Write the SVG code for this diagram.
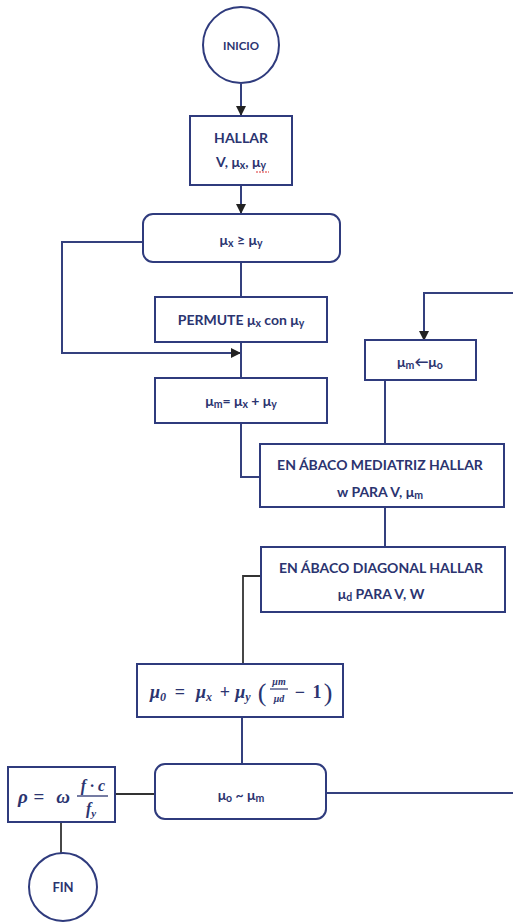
<svg xmlns="http://www.w3.org/2000/svg" width="513" height="922" viewBox="0 0 513 922">
<defs>
<style>
.n{fill:#fff;stroke:#2f3b7d;stroke-width:2}
.t{font-family:Lato,"Open Sans","DejaVu Sans",sans-serif;font-weight:bold;font-size:14px;fill:#2b3470;text-anchor:middle}
.s{font-size:10.5px}
.c{fill:none;stroke:#34407e;stroke-width:2}
.k{fill:none;stroke:#333;stroke-width:1.8}
.m{font-family:"Liberation Serif","DejaVu Serif",serif;font-style:italic;font-weight:bold;fill:#2b3470;text-anchor:middle}
.u{font-style:normal}
</style>
<marker id="a" viewBox="0 0 10 10" refX="9" refY="5" markerWidth="5" markerHeight="5" orient="auto"><path d="M0,0 L10,5 L0,10 z" fill="#222"/></marker>
</defs>
<rect width="513" height="922" fill="#fff"/>
<g id="connectors">
<line class="c" x1="241" y1="84" x2="241" y2="115" marker-end="url(#a)"/>
<line class="c" x1="241" y1="185" x2="241" y2="213" marker-end="url(#a)"/>
<line class="c" x1="241" y1="262" x2="241" y2="297"/>
<polyline class="c" points="143,242 62,242 62,353 240,353" marker-end="url(#a)"/>
<line class="c" x1="241" y1="342" x2="241" y2="378"/>
<polyline class="c" points="241,423 241,477 260,477"/>
<polyline class="c" points="513,293 424,293 424,340" marker-end="url(#a)"/>
<line class="c" x1="385" y1="380" x2="385" y2="444"/>
<line class="c" x1="385" y1="507" x2="385" y2="547"/>
<polyline class="k" points="261,576 243,576 243,664"/>
<line class="c" x1="242" y1="717" x2="242" y2="763"/>
<line class="c" x1="326" y1="793" x2="513" y2="793"/>
<line class="k" x1="115" y1="794" x2="155" y2="794"/>
<line class="k" x1="61" y1="822" x2="61" y2="853"/>
</g>
<g id="inicio"><circle class="n" cx="241" cy="45" r="38"/><text class="t" x="241" y="50" style="font-size:11.5px">INICIO</text></g>
<g id="hallar"><rect class="n" x="190" y="116" width="102" height="69"/><text class="t" x="241" y="143">HALLAR</text><text class="t" x="241" y="167">V, μ<tspan class="s" dy="2">x</tspan><tspan dy="-2">, μ</tspan><tspan class="s" dy="2">y</tspan></text><line x1="256" y1="172" x2="269" y2="172" stroke="#d33" stroke-width="1" stroke-dasharray="2,1"/></g>
<g id="decision1"><rect class="n" x="143" y="214" width="197" height="48" rx="10"/><text class="t" x="241" y="245">μ<tspan class="s" dy="2">x</tspan><tspan dy="-2"> ≥ μ</tspan><tspan class="s" dy="2">y</tspan></text></g>
<g id="permute"><rect class="n" x="155" y="297" width="172" height="45"/><text class="t" x="241" y="325">PERMUTE μ<tspan class="s" dy="2">x</tspan><tspan dy="-2"> con μ</tspan><tspan class="s" dy="2">y</tspan></text></g>
<g id="suma"><rect class="n" x="155" y="378" width="172" height="45"/><text class="t" x="241" y="406">μ<tspan class="s" dy="2">m</tspan><tspan dy="-2">= μ</tspan><tspan class="s" dy="2">x</tspan><tspan dy="-2"> + μ</tspan><tspan class="s" dy="2">y</tspan></text></g>
<g id="asignar"><rect class="n" x="365" y="340" width="111" height="40"/><text class="t" x="420" y="367">μ<tspan class="s" dy="2">m</tspan><tspan dy="-2">←μ</tspan><tspan class="s" dy="2">o</tspan></text></g>
<g id="mediatriz"><rect class="n" x="260" y="444" width="244" height="63"/><text class="t" x="380" y="470">EN ÁBACO MEDIATRIZ HALLAR</text><text class="t" x="380" y="497">w PARA V, μ<tspan class="s" dy="2">m</tspan></text></g>
<g id="diagonal"><rect class="n" x="261" y="547" width="244" height="65"/><text class="t" x="381" y="573">EN ÁBACO DIAGONAL HALLAR</text><text class="t" x="381" y="599">μ<tspan class="s" dy="2">d</tspan><tspan dy="-2"> PARA V, W</tspan></text></g>
<g id="formula"><rect class="n" x="137" y="664" width="206" height="53"/>
<text class="m" x="158" y="698" font-size="18">μ<tspan font-size="12" dy="3">0</tspan></text>
<text class="m u" x="180" y="698" font-size="18">=</text>
<text class="m" x="204" y="698" font-size="18">μ<tspan font-size="12" dy="3">x</tspan></text>
<text class="m u" x="225" y="698" font-size="18">+</text>
<text class="m" x="243" y="698" font-size="18">μ<tspan font-size="12" dy="3">y</tspan></text>
<text class="m u" x="262" y="701" font-size="26" style="font-weight:normal">(</text>
<text class="m" x="279" y="685" font-size="10">μm</text>
<line x1="270" y1="689" x2="288" y2="689" stroke="#2b3470" stroke-width="1.2"/>
<text class="m" x="279" y="702" font-size="10">μd</text>
<text class="m u" x="300" y="698" font-size="18">−</text>
<text class="m u" x="317" y="698" font-size="18">1</text>
<text class="m u" x="328" y="701" font-size="26" style="font-weight:normal">)</text>
</g>
<g id="decision2"><rect class="n" x="155" y="764" width="171" height="55" rx="10"/><text class="t" x="241" y="800">μ<tspan class="s" dy="2">o</tspan><tspan dy="-2"> ~ μ</tspan><tspan class="s" dy="2">m</tspan></text></g>
<g id="rho"><rect class="n" x="8" y="767" width="107" height="55"/>
<text class="m" x="23" y="803" font-size="19">ρ</text>
<text class="m u" x="39" y="803" font-size="19">=</text>
<text class="m" x="63" y="803" font-size="19">ω</text>
<text class="m" x="93" y="791" font-size="16">f · c</text>
<line x1="77" y1="796" x2="108" y2="796" stroke="#2b3470" stroke-width="1.3"/>
<text class="m" x="91" y="814" font-size="16">f<tspan font-size="11" dy="3">y</tspan></text>
</g>
<g id="fin"><circle class="n" cx="63" cy="887" r="34"/><text class="t" x="63" y="892" style="font-size:13px">FIN</text></g>
</svg>
